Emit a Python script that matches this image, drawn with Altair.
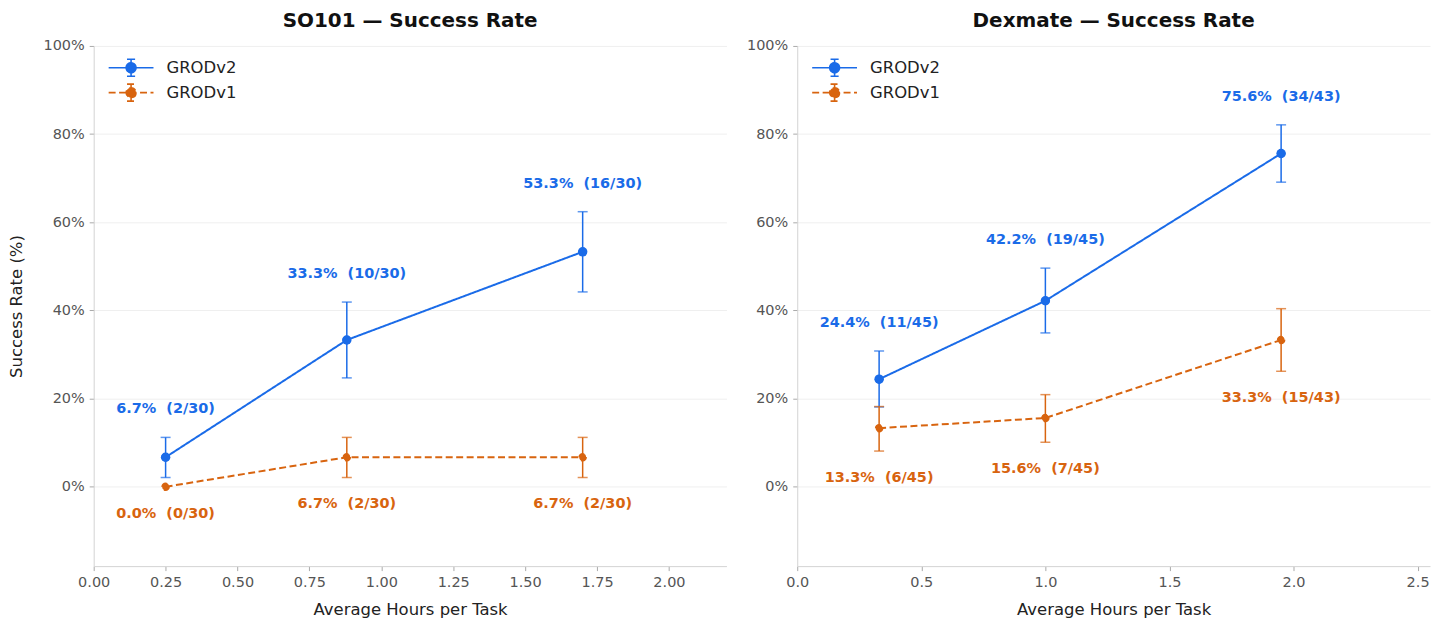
import altair as alt
import pandas as pd

series = ["GRODv2", "GRODv1"]
colors = ["#1a6be8", "#d8640f"]

# SO101
so_x = [0.25, 0.88, 1.70]
so_v2_y = [6.7, 33.3, 53.3]
so_v2_lo = [2.1, 24.7, 44.2]
so_v2_hi = [11.2, 41.9, 62.4]
so_v2_lab = ["6.7%\u00a0 (2/30)", "33.3%\u00a0 (10/30)", "53.3%\u00a0 (16/30)"]
so_v1_y = [0.0, 6.7, 6.7]
so_v1_lo = [0.0, 2.1, 2.1]
so_v1_hi = [0.0, 11.2, 11.2]
so_v1_lab = ["0.0%\u00a0 (0/30)", "6.7%\u00a0 (2/30)", "6.7%\u00a0 (2/30)"]

# Dexmate
dx_x = [0.33, 1.0, 1.95]
dx_v2_y = [24.4, 42.2, 75.6]
dx_v2_lo = [18.1, 34.9, 69.1]
dx_v2_hi = [30.8, 49.6, 82.1]
dx_v2_lab = ["24.4%\u00a0 (11/45)", "42.2%\u00a0 (19/45)", "75.6%\u00a0 (34/43)"]
dx_v1_y = [13.3, 15.6, 33.3]
dx_v1_lo = [8.1, 10.1, 26.2]
dx_v1_hi = [18.2, 20.9, 40.4]
dx_v1_lab = ["13.3%\u00a0 (6/45)", "15.6%\u00a0 (7/45)", "33.3%\u00a0 (15/43)"]

y_ticks = [0, 20, 40, 60, 80, 100]
so_x_ticks = [0.0, 0.25, 0.5, 0.75, 1.0, 1.25, 1.5, 1.75, 2.0]
dx_x_ticks = [0.0, 0.5, 1.0, 1.5, 2.0, 2.5]

LEGEND_PATH = ("M-1,0H1M0,-0.38V0.38M-0.18,-0.38H0.18M-0.18,0.38H0.18"
               "M0.22,0A0.22,0.22,0,1,1,-0.22,0A0.22,0.22,0,1,1,0.22,0Z")

FONT = "DejaVu Sans"


def make_df(xs, v2y, v2lo, v2hi, v2lab, v1y, v1lo, v1hi, v1lab):
    rows = []
    for x, y, lo, hi, lab in zip(xs, v2y, v2lo, v2hi, v2lab):
        rows.append(dict(series="GRODv2", x=x, y=y, lo=lo, hi=hi, label=lab))
    for x, y, lo, hi, lab in zip(xs, v1y, v1lo, v1hi, v1lab):
        rows.append(dict(series="GRODv1", x=x, y=y, lo=lo, hi=hi, label=lab))
    return pd.DataFrame(rows)


def panel(df, title, xmax, xticks, xfmt, ytitle):
    legend = alt.Legend(
        title=None, orient="none", legendX=14, legendY=9.5,
        symbolType=LEGEND_PATH, symbolSize=2025, symbolStrokeWidth=1.6,
        labelFontSize=16.5, labelFont=FONT, labelColor="#222222",
        labelOffset=12, rowPadding=0, clipHeight=24.7, padding=0,
        symbolOpacity=1,
    )
    cscale = alt.Scale(domain=series, range=colors)
    dscale = alt.Scale(domain=series, range=[[1, 0], [7, 3.5]])
    x = alt.X("x:Q", scale=alt.Scale(domain=[0, xmax], nice=False, zero=True),
              axis=alt.Axis(title="Average Hours per Task", values=xticks,
                            format=xfmt, grid=False, labelFlush=False))
    yaxis = alt.Axis(values=y_ticks, labelExpr="datum.value + '%'",
                     grid=True, title=ytitle if ytitle else None,
                     labelFlush=False)
    yscale = alt.Scale(domain=[-18, 100], nice=False, zero=False)
    y = alt.Y("y:Q", scale=yscale, axis=yaxis)
    ylo = alt.Y("lo:Q", scale=yscale, axis=yaxis)
    yhi = alt.Y("hi:Q", scale=yscale, axis=yaxis)

    base = alt.Chart(df)
    layers = []
    for s, c, dash in [("GRODv2", colors[0], [1, 0]), ("GRODv1", colors[1], [7, 3.5])]:
        b = base.transform_filter(f"datum.series == '{s}'")
        layers.append(b.mark_line(strokeWidth=2, strokeDash=dash, color=c).encode(
            x=x, y=y, order="x:Q"))
        be = b.transform_filter("datum.hi > datum.lo")
        layers.append(be.mark_rule(strokeWidth=1.5, color=c).encode(x=x, y=ylo, y2="hi:Q"))
        layers.append(be.mark_tick(orient="horizontal", size=10, thickness=1.5, color=c).encode(
            x=x, y=ylo))
        layers.append(be.mark_tick(orient="horizontal", size=10, thickness=1.5, color=c).encode(
            x=x, y=yhi))
    pts = base.mark_point(filled=True, opacity=1, strokeWidth=1.6, size=48).encode(
        x=x, y=y,
        fill=alt.Fill("series:N", scale=cscale, legend=legend),
        stroke=alt.Stroke("series:N", scale=cscale, legend=legend),
        strokeDash=alt.StrokeDash("series:N", scale=dscale, legend=legend),
    )
    layers.append(pts)
    layers.append(base.transform_filter("datum.series == 'GRODv2'").mark_point(
        filled=True, opacity=1, size=90, color=colors[0]).encode(x=x, y=y))
    layers.append(base.transform_filter("datum.series == 'GRODv2'").mark_text(
        dy=-28, align="center", baseline="middle", font=FONT,
        fontWeight="bold", fontSize=14.5, color=colors[0]
    ).encode(x=x, y=yhi, text="label:N"))
    layers.append(base.transform_filter("datum.series == 'GRODv1'").mark_text(
        dy=27, align="center", baseline="middle", font=FONT,
        fontWeight="bold", fontSize=14.5, color=colors[1]
    ).encode(x=x, y=ylo, text="label:N"))

    return alt.layer(*layers).properties(
        width=635, height=522,
        title=alt.TitleParams(title, fontSize=20, fontWeight="bold", font=FONT,
                              color="#111111", offset=7, anchor="middle"),
    )


so_df = make_df(so_x, so_v2_y, so_v2_lo, so_v2_hi, so_v2_lab,
                so_v1_y, so_v1_lo, so_v1_hi, so_v1_lab)
dx_df = make_df(dx_x, dx_v2_y, dx_v2_lo, dx_v2_hi, dx_v2_lab,
                dx_v1_y, dx_v1_lo, dx_v1_hi, dx_v1_lab)

left = panel(so_df, "SO101 — Success Rate", 2.2, so_x_ticks, ".2f", "Success Rate (%)")
right = panel(dx_df, "Dexmate — Success Rate", 2.55, dx_x_ticks, ".1f", None)

chart = alt.hconcat(left, right, spacing=20).resolve_scale(
    x="independent", y="independent", fill="independent", stroke="independent",
    strokeDash="independent",
).resolve_legend(
    fill="independent", stroke="independent", strokeDash="independent",
).properties(
    padding={"left": 1, "top": 2, "right": 2, "bottom": 2},
    background="white",
).configure_view(stroke=None).configure_axis(
    labelFont=FONT, titleFont=FONT, labelFontSize=14.5, labelColor="#555555",
    titleFontSize=16.5, titleColor="#222222", titleFontWeight="normal",
    domainColor="#d4d4d4", tickColor="#aaaaaa", tickSize=4.5,
    gridColor="#efefef", labelPadding=5,
).configure_axisX(titlePadding=13).configure_axisY(titlePadding=18)

chart.save("out.html", embed_options={"renderer": "svg", "actions": False})
